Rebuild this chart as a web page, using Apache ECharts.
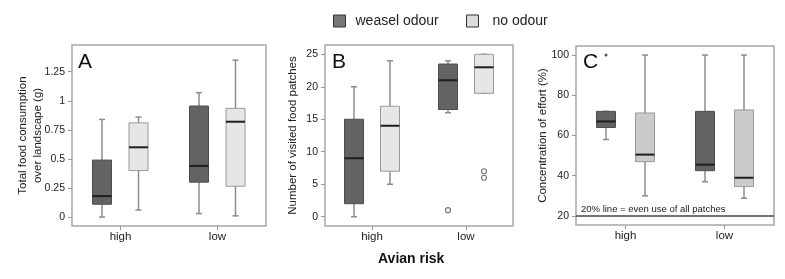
<!DOCTYPE html>
<html>
<head>
<meta charset="utf-8">
<script src="https://cdn.jsdelivr.net/npm/echarts@6/dist/echarts.min.js"></script>
<style>
  html, body { margin: 0; padding: 0; background: #fff; }
  #chart { width: 785px; height: 279px; }
</style>
</head>
<body>
<div id="chart"></div>
<script>
// categories on every x axis
const risk = ['high', 'low'];

// box values per category: [min, Q1, median, Q3, max]
const foodWeasel = [[0, 0.11, 0.18, 0.49, 0.84], [0.03, 0.30, 0.44, 0.955, 1.07]];
const foodNone = [[0.06, 0.40, 0.60, 0.81, 0.86], [0.01, 0.265, 0.82, 0.935, 1.35]];
const patchWeasel = [[0, 2, 9, 15, 20], [16, 16.5, 21, 23.5, 24]];
const patchNone = [[5, 7, 14, 17, 24], [19, 19, 23, 25, 25]];
const effortWeasel = [[58, 64, 67, 72, 72], [37, 42.5, 45.5, 72, 100]];
const effortNone = [[30, 47, 50.5, 71.2, 100], [28.8, 34.6, 39, 72.7, 100]];

// outliers: [category index, value]
const patchWeaselOut = [[1, 1]];
const patchNoneOut = [[1, 7], [1, 6]];
const effortWeaselOut = [[0, 100]];

// y tick labels
const foodTicks = [0, 0.25, 0.5, 0.75, 1, 1.25];
const patchTicks = [0, 5, 10, 15, 20, 25];
const effortTicks = [20, 40, 60, 80, 100];

const FONT = 'Liberation Sans, Arial, sans-serif';
const WEASEL = '#636363';
const WHISKER = '#8c8c8c';

let myChart = echarts.init(document.getElementById('chart'));

// one box per data row, shifted sideways from the category centre
function boxRenderer(offset, fill, edge) {
  return function (params, api) {
    const c = api.value(0);
    const x = api.coord([c, 0])[0] + offset;
    const y = k => api.coord([c, api.value(k)])[1];
    const half = 9.5, cap = 3;
    const w = { stroke: WHISKER, lineWidth: 1.5 };
    return {
      type: 'group',
      children: [
        { type: 'line', shape: { x1: x, y1: y(5), x2: x, y2: y(4) }, style: w },
        { type: 'line', shape: { x1: x, y1: y(1), x2: x, y2: y(2) }, style: w },
        { type: 'line', shape: { x1: x - cap, y1: y(5), x2: x + cap, y2: y(5) }, style: w },
        { type: 'line', shape: { x1: x - cap, y1: y(1), x2: x + cap, y2: y(1) }, style: w },
        { type: 'rect', shape: { x: x - half, y: y(4), width: half * 2, height: y(2) - y(4) },
          style: { fill: fill, stroke: edge, lineWidth: 1 } },
        { type: 'line', shape: { x1: x - half, y1: y(3), x2: x + half, y2: y(3) },
          style: { stroke: '#1e1e1e', lineWidth: 2 } }
      ]
    };
  };
}

function boxSeries(name, gi, rows, offset, fill, edge) {
  return {
    name: name,
    type: 'custom',
    xAxisIndex: gi,
    yAxisIndex: gi,
    itemStyle: { color: fill },
    encode: { x: 0, y: [1, 2, 3, 4, 5] },
    data: rows.map((d, i) => [i].concat(d)),
    renderItem: boxRenderer(offset, fill, edge),
    z: 3
  };
}

function outlierSeries(name, gi, pts, offset, hollow, size) {
  return {
    name: name,
    type: 'scatter',
    xAxisIndex: gi,
    yAxisIndex: gi,
    data: pts,
    symbol: 'circle',
    symbolSize: size,
    symbolOffset: [offset, 0],
    itemStyle: hollow
      ? { color: '#fff', borderColor: '#777', borderWidth: 1.2, opacity: 1 }
      : { color: '#555', opacity: 1 },
    z: 4
  };
}

const grids = [
  { left: 72, top: 45, width: 194, height: 181 },
  { left: 325, top: 45, width: 188, height: 181 },
  { left: 576, top: 46, width: 198, height: 179 }
].map(g => Object.assign(g, { show: true, borderColor: '#a8a8a8', borderWidth: 1.5, backgroundColor: '#fff' }));

const xAxes = [0, 1, 2].map(i => ({
  type: 'category',
  gridIndex: i,
  data: risk,
  boundaryGap: true,
  axisLine: { show: false, onZero: false },
  axisTick: { show: true, alignWithLabel: true, length: 4, lineStyle: { color: '#999' } },
  axisLabel: { fontSize: 11.5, color: '#222', fontFamily: FONT, margin: 5 },
  splitLine: { show: false }
}));

function yAxis(i, min, max, ticks, name, gap) {
  return {
    type: 'value',
    gridIndex: i,
    min: min,
    max: max,
    name: name,
    nameLocation: 'middle',
    nameGap: gap,
    nameRotate: 90,
    nameMoveOverlap: false,
    nameTextStyle: { fontSize: 11.5, color: '#222', fontFamily: FONT, lineHeight: 15 },
    axisLine: { show: false, onZero: false },
    axisTick: { show: true, length: 4, customValues: ticks, lineStyle: { color: '#999' } },
    axisLabel: { customValues: ticks, fontSize: 10.5, color: '#222', fontFamily: FONT, margin: 7 },
    splitLine: { show: false }
  };
}

const yAxes = [
  yAxis(0, -0.077, 1.48, foodTicks, 'Total food consumption\nover landscape (g)', 27),
  yAxis(1, -1.43, 26.43, patchTicks, 'Number of visited food patches', 24.5),
  yAxis(2, 15.5, 104.5, effortTicks, 'Concentration of effort (%)', 25.5)
];

const letter = (t, left) => ({
  text: t, left: left, top: 52, padding: 0,
  textStyle: { fontSize: 21, fontWeight: 'normal', color: '#111', fontFamily: FONT }
});

const legendItem = (name, left, fill, pad) => ({
  data: [{ name: name, itemStyle: { color: fill, borderColor: '#333', borderWidth: 1 } }],
  left: left, top: 14, padding: 0,
  icon: 'rect', itemWidth: 12, itemHeight: 12,
  selectedMode: false,
  textStyle: { fontSize: 14, color: '#222', fontFamily: FONT, padding: [0, 0, 0, pad] }
});

const noneEffort = boxSeries('no odour', 2, effortNone, 19.5, '#cbcbcb', '#999');
noneEffort.markLine = {
  silent: true,
  symbol: 'none',
  lineStyle: { color: '#444', width: 1.5, type: 'solid' },
  label: {
    position: 'insideStartTop',
    formatter: '20% line = even use of all patches',
    fontSize: 9.5, color: '#222', fontFamily: FONT, distance: [5, 2]
  },
  data: [{ yAxis: 20 }]
};

myChart.setOption({
  animation: false,
  backgroundColor: '#fff',
  title: [
    letter('A', 78), letter('B', 332), letter('C', 583),
    { text: 'Avian risk', left: 378, top: 252, padding: 0,
      textStyle: { fontSize: 14, fontWeight: 'bold', color: '#111', fontFamily: FONT } }
  ],
  legend: [
    legendItem('weasel odour', 333, '#777', 5),
    legendItem('no odour', 466, '#dcdcdc', 9)
  ],
  grid: grids,
  xAxis: xAxes,
  yAxis: yAxes,
  series: [
    boxSeries('weasel odour', 0, foodWeasel, -18.5, WEASEL, '#4d4d4d'),
    boxSeries('no odour', 0, foodNone, 18, '#e6e6e6', '#999'),
    boxSeries('weasel odour', 1, patchWeasel, -18, WEASEL, '#4d4d4d'),
    boxSeries('no odour', 1, patchNone, 18, '#e6e6e6', '#999'),
    outlierSeries('weasel odour', 1, patchWeaselOut, -18, true, 5),
    outlierSeries('no odour', 1, patchNoneOut, 18, true, 5),
    boxSeries('weasel odour', 2, effortWeasel, -19.5, WEASEL, '#4d4d4d'),
    noneEffort,
    outlierSeries('weasel odour', 2, effortWeaselOut, -19.5, false, 3)
  ]
});
</script>
</body>
</html>
